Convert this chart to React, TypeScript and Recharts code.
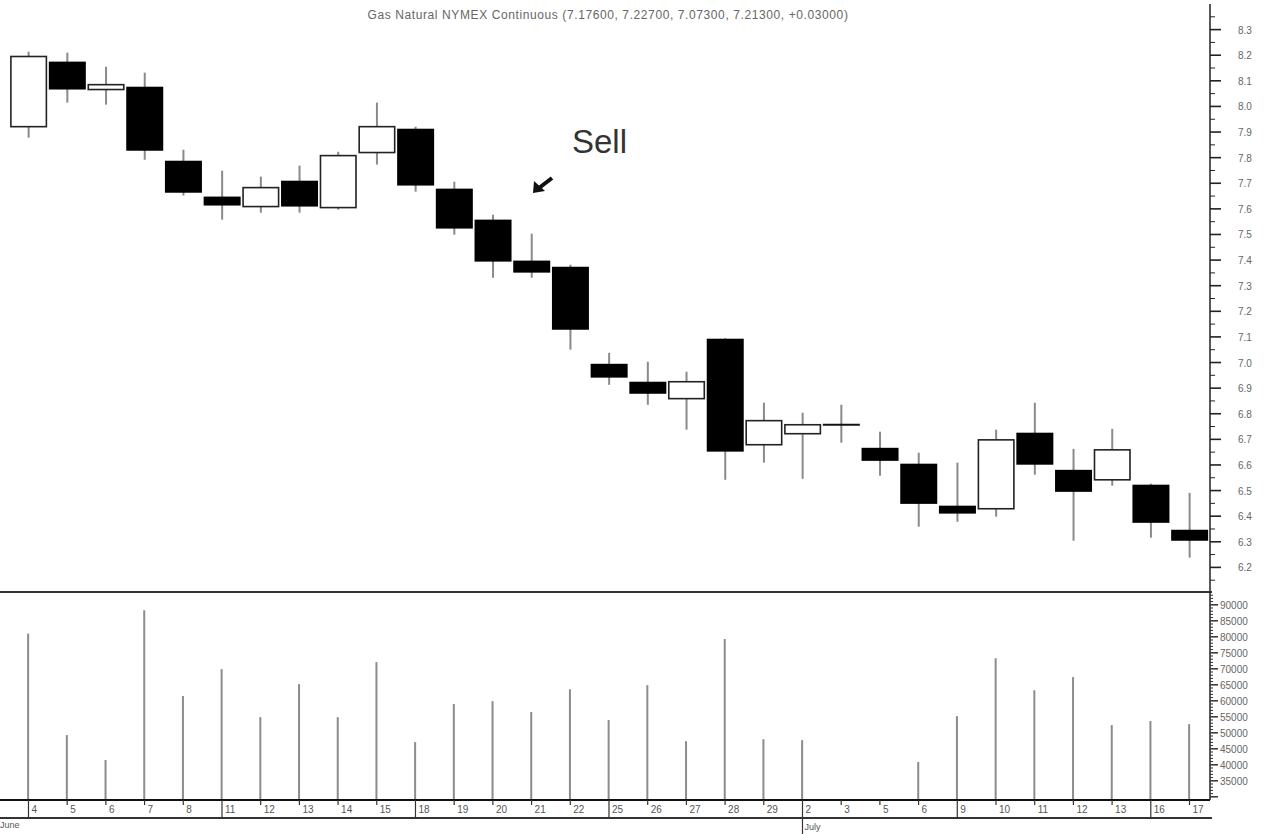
import React from 'react';
import { ComposedChart, Bar, XAxis, YAxis } from 'recharts';

const dayLabels = ['4','5','6','7','8','11','12','13','14','15','18','19','20','21','22','25','26','27','28','29','2','3','5','6','9','10','11','12','13','16','17'];
const weekStarts = [0, 5, 10, 15, 20, 24, 29];
const julyIndex = 20;

const opens = [7.921, 8.175, 8.066, 8.077, 7.788, 7.648, 7.609, 7.710, 7.605, 7.820, 7.913, 7.679, 7.558, 7.398, 7.374, 6.995, 6.925, 6.859, 7.093, 6.679, 6.722, 6.757, 6.667, 6.605, 6.441, 6.429, 6.726, 6.581, 6.542, 6.523, 6.347];
const closes = [8.195, 8.066, 8.085, 7.827, 7.663, 7.613, 7.683, 7.609, 7.808, 7.921, 7.691, 7.523, 7.394, 7.351, 7.128, 6.941, 6.878, 6.925, 6.652, 6.773, 6.757, 6.757, 6.616, 6.448, 6.410, 6.698, 6.601, 6.495, 6.659, 6.374, 6.304];
const highs = [8.214, 8.210, 8.155, 8.132, 7.831, 7.749, 7.726, 7.769, 7.823, 8.015, 7.921, 7.706, 7.577, 7.503, 7.382, 7.038, 7.003, 6.964, 7.095, 6.843, 6.804, 6.835, 6.730, 6.648, 6.609, 6.738, 6.843, 6.663, 6.741, 6.527, 6.491];
const lows = [7.878, 8.015, 8.007, 7.792, 7.652, 7.558, 7.585, 7.585, 7.597, 7.773, 7.667, 7.499, 7.331, 7.331, 7.050, 6.913, 6.835, 6.738, 6.542, 6.609, 6.546, 6.687, 6.558, 6.359, 6.378, 6.398, 6.562, 6.304, 6.519, 6.316, 6.238];
const volumes: (number | null)[] = [81000, 49300, 41500, 88300, 61500, 69900, 54900, 65200, 54900, 72100, 47100, 59000, 59900, 56500, 63600, 54000, 64900, 47400, 79300, 48000, 47700, null, null, 40900, 55200, 73300, 63300, 67400, 52400, 53700, 52700];

const priceMajorTicks = [6.2, 6.3, 6.4, 6.5, 6.6, 6.7, 6.8, 6.9, 7.0, 7.1, 7.2, 7.3, 7.4, 7.5, 7.6, 7.7, 7.8, 7.9, 8.0, 8.1, 8.2, 8.3];
const volumeMajorTicks = [30000, 35000, 40000, 45000, 50000, 55000, 60000, 65000, 70000, 75000, 80000, 85000, 90000];
const volumeLabelTicks = [35000, 40000, 45000, 50000, 55000, 60000, 65000, 70000, 75000, 80000, 85000, 90000];

const titleText = 'Gas Natural NYMEX Continuous (7.17600, 7.22700, 7.07300, 7.21300, +0.03000)';

const data = dayLabels.map((d, i) => ({
  idx: i,
  day: d,
  open: opens[i],
  close: closes[i],
  high: highs[i],
  low: lows[i],
  range: [lows[i], highs[i]],
  volume: volumes[i],
}));

const priceTicks: number[] = [];
priceMajorTicks.forEach((t) => {
  priceTicks.push(t);
  priceTicks.push(Math.round((t + 0.05) * 100) / 100);
});
priceTicks.unshift(6.15);

const volumeTicks: number[] = [];
for (let v = 30000; v <= 93000; v += 1000) volumeTicks.push(v);

const X_DOMAIN: [number, number] = [-0.736, 30.53];
const FONT = '"Liberation Sans", Arial, sans-serif';

const Candle = (props: any) => {
  const { x, y, width, height, payload } = props;
  if (!payload || x == null) return null;
  const { open, close, high, low } = payload;
  const top = Math.min(y, y + height);
  const h = Math.abs(height);
  const py = (p: number) => top + ((high - p) / (high - low)) * h;
  const cx = x + width / 2;
  const bTop = py(Math.max(open, close));
  const bBot = py(Math.min(open, close));
  const up = close > open;
  const doji = Math.abs(close - open) < 1e-6;
  return (
    <g>
      <line x1={cx} x2={cx} y1={top} y2={top + h} stroke="#8a8a8a" strokeWidth={2} />
      {doji ? (
        <line x1={x} x2={x + width} y1={bTop} y2={bTop} stroke="#111" strokeWidth={2} />
      ) : up ? (
        <rect x={x + 0.75} y={bTop} width={width - 1.5} height={Math.max(bBot - bTop, 1)} fill="#fff" stroke="#222" strokeWidth={1.6} />
      ) : (
        <rect x={x} y={bTop} width={width} height={Math.max(bBot - bTop, 1)} fill="#000" />
      )}
    </g>
  );
};

const PriceTick = (props: any) => {
  const { x, y, payload } = props;
  const v = payload.value as number;
  const major = priceMajorTicks.some((t) => Math.abs(t - v) < 1e-6);
  return (
    <g>
      <line x1={x} x2={x + (major ? 11 : 5)} y1={y} y2={y} stroke="#222" strokeWidth={major ? 1.6 : 1} />
      {major && (
        <text x={x + 28} y={y} dy={4} fontSize={10} fill="#666" fontFamily={FONT}>
          {v.toFixed(1)}
        </text>
      )}
    </g>
  );
};

const VolumeTick = (props: any) => {
  const { x, y, payload } = props;
  const v = payload.value as number;
  const major = volumeMajorTicks.includes(v);
  const labelled = volumeLabelTicks.includes(v);
  return (
    <g>
      <line x1={x} x2={x + (major ? 8 : 3)} y1={y} y2={y} stroke="#333" strokeWidth={major ? 1.5 : 1} />
      {labelled && (
        <text x={x + 10} y={y} dy={4} fontSize={10} fill="#666" fontFamily={FONT}>
          {String(v)}
        </text>
      )}
    </g>
  );
};

const DateTick = (props: any) => {
  const { x, y, payload } = props;
  const i = Math.round(payload.value as number);
  const isWeek = weekStarts.includes(i);
  const len = i === julyIndex ? 34 : isWeek ? 18 : 5;
  return (
    <g>
      <line x1={x} x2={x} y1={y} y2={y + len} stroke="#333" strokeWidth={1.2} />
      <text x={x + 3} y={y + 13} fontSize={10} fill="#555" fontFamily={FONT}>
        {dayLabels[i]}
      </text>
      {i === julyIndex && (
        <text x={x + 2} y={y + 30} fontSize={9} fill="#555" fontFamily={FONT}>
          July
        </text>
      )}
    </g>
  );
};

const dateTicks = dayLabels.map((_, i) => i);

export default function App() {
  return (
    <div
      style={{
        position: 'absolute',
        left: 0,
        top: 0,
        width: 1267,
        height: 834,
        overflow: 'hidden',
        background: '#fff',
        fontFamily: FONT,
      }}
    >
      <div
        style={{
          position: 'absolute',
          left: 0,
          top: 8,
          width: 1216,
          textAlign: 'center',
          fontSize: 12,
          letterSpacing: 0.6,
          color: '#666',
          whiteSpace: 'nowrap',
        }}
      >
        {titleText}
      </div>

      <div style={{ position: 'absolute', left: 0, top: 0 }}>
        <ComposedChart width={1267} height={593} data={data} margin={{ top: 4, right: 0, bottom: 0, left: 0 }}>
          <XAxis dataKey="idx" type="number" domain={X_DOMAIN} allowDataOverflow hide />
          <YAxis
            orientation="right"
            width={57}
            domain={[6.1, 8.4]}
            allowDataOverflow
            ticks={priceTicks}
            interval={0}
            tickLine={false}
            tickSize={0}
            tickMargin={0}
            tick={<PriceTick />}
            axisLine={{ stroke: '#222', strokeWidth: 1.5 }}
          />
          <Bar dataKey="range" barSize={37} shape={<Candle />} isAnimationActive={false} />
        </ComposedChart>
      </div>

      <div style={{ position: 'absolute', left: 0, top: 591, width: 1212, height: 2, background: '#333' }} />

      <div style={{ position: 'absolute', left: 0, top: 592 }}>
        <ComposedChart width={1267} height={242} data={data} margin={{ top: 0, right: 0, bottom: 0, left: 0 }}>
          <XAxis
            dataKey="idx"
            type="number"
            domain={X_DOMAIN}
            allowDataOverflow
            ticks={dateTicks}
            interval={0}
            height={34}
            tickLine={false}
            tickSize={0}
            tickMargin={0}
            tick={<DateTick />}
            axisLine={{ stroke: '#111', strokeWidth: 2 }}
          />
          <YAxis
            orientation="right"
            width={57}
            domain={[29000, 94000]}
            allowDataOverflow
            ticks={volumeTicks}
            interval={0}
            tickLine={false}
            tickSize={0}
            tickMargin={0}
            tick={<VolumeTick />}
            axisLine={{ stroke: '#222', strokeWidth: 1.5 }}
          />
          <Bar dataKey="volume" barSize={2} fill="#8c8c8c" isAnimationActive={false} />
        </ComposedChart>
      </div>

      <div style={{ position: 'absolute', left: 0, top: 817, width: 1212, height: 1.5, background: '#333' }} />
      <div style={{ position: 'absolute', left: 0, top: 820, fontSize: 9, color: '#555' }}>June</div>

      <svg width={1267} height={834} style={{ position: 'absolute', left: 0, top: 0, pointerEvents: 'none' }}>
        <text x={572} y={153} fontSize={33} fill="#333" fontFamily={FONT}>
          Sell
        </text>
        <line x1={552} x2={539} y1={178} y2={188} stroke="#111" strokeWidth={4} />
        <polygon points="533,193 534,181 545,191" fill="#111" />
      </svg>
    </div>
  );
}
